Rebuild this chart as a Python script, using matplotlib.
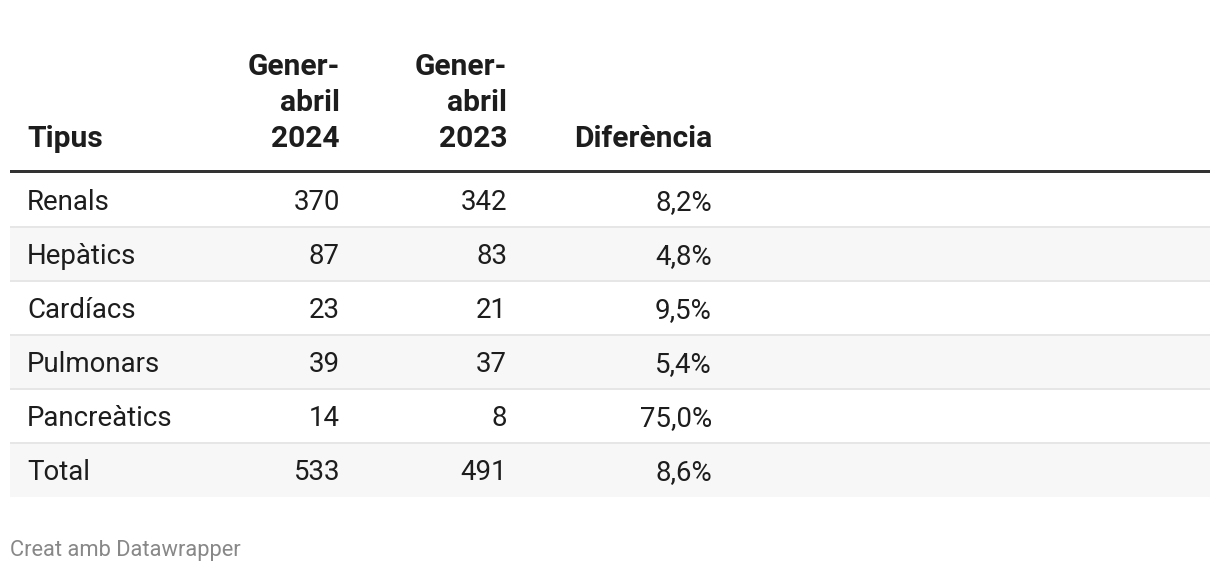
import matplotlib
matplotlib.use("Agg")
import matplotlib.pyplot as plt
from matplotlib.patches import Rectangle

# ---- data ----
tipus = ["Renals", "Hepàtics", "Cardíacs", "Pulmonars", "Pancreàtics", "Total"]
gener_abril_2024 = [370, 87, 23, 39, 14, 533]
gener_abril_2023 = [342, 83, 21, 37, 8, 491]
diferencia = ["8,2%", "4,8%", "9,5%", "5,4%", "75,0%", "8,6%"]
headers = ["Tipus", "Gener-\nabril\n2024", "Gener-\nabril\n2023", "Diferència"]
footer = "Creat amb Datawrapper"

W, H = 1220, 572
fig = plt.figure(figsize=(W / 100, H / 100), dpi=100)
ax = fig.add_axes([0, 0, 1, 1])
ax.set_xlim(0, W)
ax.set_ylim(H, 0)
ax.axis("off")

FONT = "Roboto"
TXT = "#1d1d1d"
body_fs = 27.6 * 0.72
head_fs = 30 * 0.72

x_left, x_right = 10, 1210
col_x = [27, 340, 507, 712]
aligns = ["left", "right", "right", "right"]

# header
head_base = 147
line_gap = 36
for i, h in enumerate(headers):
    lines = h.split("\n")
    n = len(lines)
    for k, ln in enumerate(lines):
        ax.text(col_x[i], head_base - (n - 1 - k) * line_gap, ln, ha=aligns[i],
                va="baseline", fontsize=head_fs, fontweight="bold", family=FONT,
                color=TXT)

# thick rule
ax.add_patch(Rectangle((x_left, 170), x_right - x_left, 3, color="#333333", lw=0))

row_top = 173
row_h = 54
for r in range(len(tipus)):
    y0 = row_top + r * row_h
    if r % 2 == 1:
        ax.add_patch(Rectangle((x_left, y0), x_right - x_left, row_h, color="#f7f7f7", lw=0))
    if r > 0:
        ax.add_patch(Rectangle((x_left, y0 - 1), x_right - x_left, 2, color="#e6e6e6", lw=0))
    yc = y0 + row_h / 2 + 1
    vals = [tipus[r], str(gener_abril_2024[r]), str(gener_abril_2023[r]), diferencia[r]]
    for i, v in enumerate(vals):
        ax.text(col_x[i], yc + 9, v, ha=aligns[i], va="baseline", fontsize=body_fs,
                family=FONT, color=TXT)

ax.text(10, 556, footer, ha="left", va="baseline", fontsize=21.9 * 0.72,
        family=FONT, color="#888888")

fig.savefig("out.png", dpi=100, facecolor="white")
